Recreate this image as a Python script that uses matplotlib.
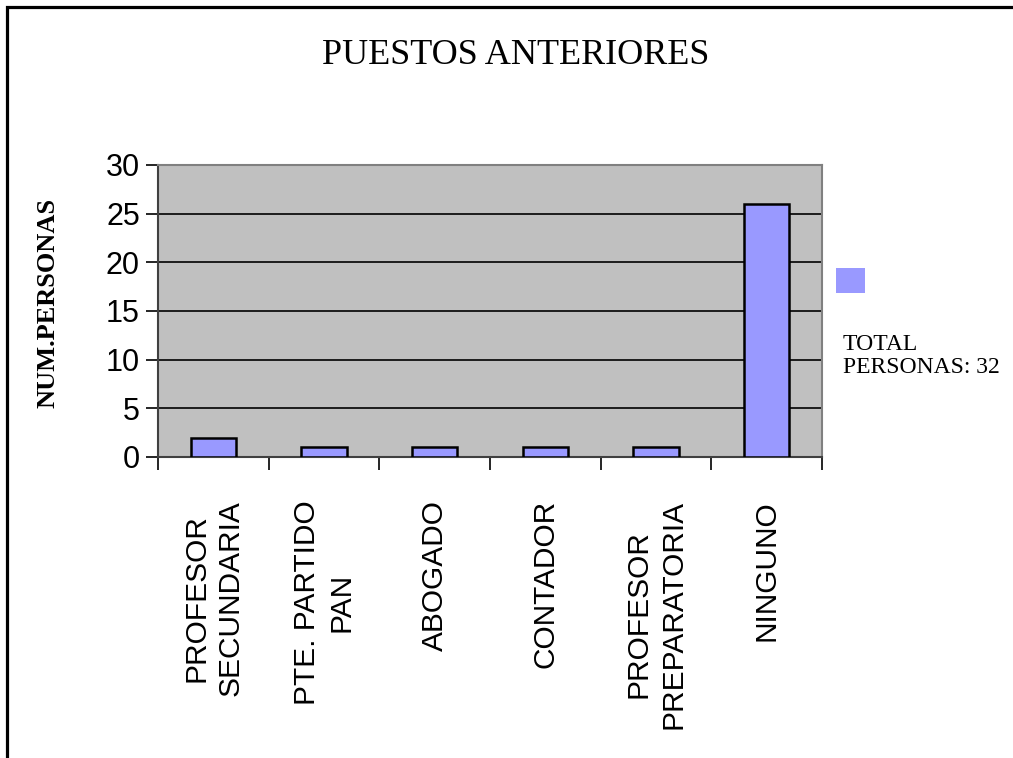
import matplotlib
matplotlib.use("Agg")
import matplotlib.pyplot as plt
from matplotlib.lines import Line2D
import matplotlib.patches as mpatches
import numpy as np

title = "PUESTOS ANTERIORES"
categories = ["PROFESOR\nSECUNDARIA", "PTE. PARTIDO\nPAN", "ABOGADO", "CONTADOR",
              "PROFESOR\nPREPARATORIA", "NINGUNO"]
values = [2, 1, 1, 1, 1, 26]
yticks = [0, 5, 10, 15, 20, 25, 30]
ylabel = "NUM.PERSONAS"
legend_text = "TOTAL\nPERSONAS: 32"

W, H = 1013, 758
fig = plt.figure(figsize=(W / 100, H / 100), dpi=100)
fig.patch.set_facecolor("white")

# outer frame (top and left edges visible)
fig.add_artist(Line2D([6.5 / W, 6.5 / W, 1.01], [-0.01, 1 - 6.5 / H, 1 - 6.5 / H],
                      transform=fig.transFigure, color="black", linewidth=2.3,
                      solid_joinstyle="miter"))

ax = fig.add_axes([158 / W, 1 - 457 / H, (822 - 158) / W, (457 - 165) / H])
ax.set_facecolor("#C0C0C0")
x = np.arange(len(categories))
ax.bar(x, values, width=0.41, color="#9999FF", edgecolor="black", linewidth=1.8, zorder=3)

ax.set_ylim(0, 30)
ax.set_xlim(-0.5, len(categories) - 0.5)
ax.set_yticks(yticks)
ax.set_yticklabels([str(v) for v in yticks], fontsize=22, family="Liberation Sans")
for v in yticks[1:-1]:
    ax.axhline(v, color="black", linewidth=1.2, zorder=1)

ax.set_xticks(x)
ax.set_xticklabels(categories, rotation=90, fontsize=21.5, family="Liberation Sans",
                   va="top", ha="center", linespacing=1.3)
ax.set_xticks(np.arange(-0.5, len(categories)), minor=True)
ax.tick_params(axis="x", which="major", length=0, pad=31)
ax.tick_params(axis="x", which="minor", length=9, width=1.2, direction="out")
ax.tick_params(axis="y", length=9, width=1.2, direction="out", pad=4)

for side in ["top", "right"]:
    ax.spines[side].set_color("#808080")
    ax.spines[side].set_linewidth(1.5)
for side in ["left", "bottom"]:
    ax.spines[side].set_color("#404040")
    ax.spines[side].set_linewidth(1.5)

fig.text(516 / W, 1 - 56 / H, title, ha="center", va="center",
         fontsize=26, family="Liberation Serif")
fig.text(48 / W, 1 - 303 / H, ylabel, rotation=90, ha="center", va="center",
         fontsize=19, fontweight="bold", family="Liberation Serif")

fig.add_artist(mpatches.Rectangle((836 / W, 1 - 293 / H), 29 / W, 25 / H,
                                  transform=fig.transFigure, facecolor="#9999FF",
                                  edgecolor="none"))
fig.text(843 / W, 1 - 356 / H, legend_text, ha="left", va="center",
         fontsize=17, family="Liberation Serif", linespacing=1.15)

fig.savefig("out.png", dpi=100, facecolor="white")
